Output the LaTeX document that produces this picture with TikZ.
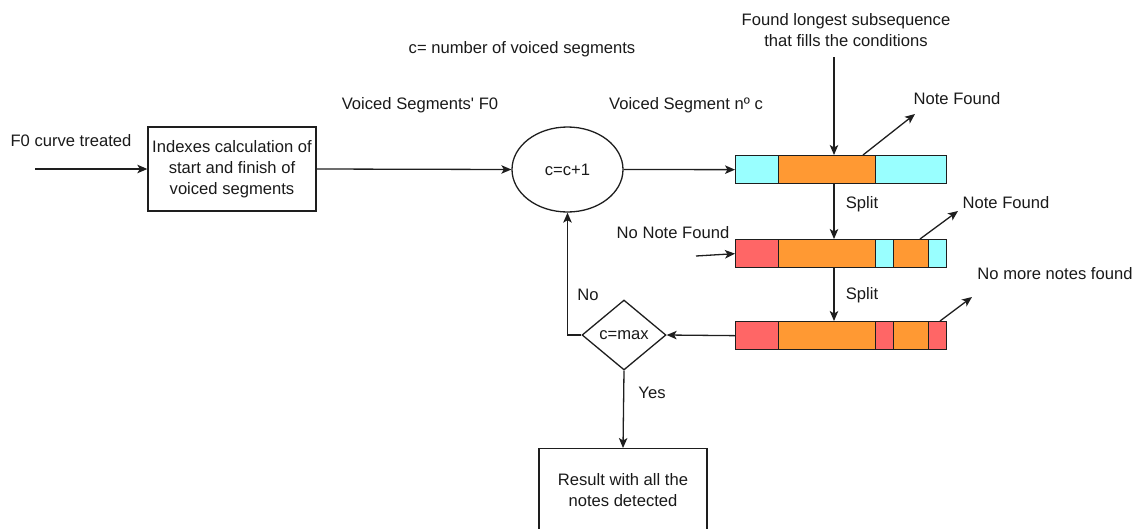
\documentclass[tikz,border=0pt]{standalone}
\usepackage{fontspec}
\setmainfont{Liberation Sans}
\usetikzlibrary{arrows.meta,shapes.geometric}
\definecolor{inkc}{HTML}{1A1A1A}
\definecolor{linec}{HTML}{1E1E1E}
\definecolor{cyanfill}{HTML}{99FFFF}
\definecolor{orangefill}{HTML}{FF9933}
\definecolor{redfill}{HTML}{FF6666}
\begin{document}
\begin{tikzpicture}[x=1pt,y=-1pt,
  txt/.style={font=\fontsize{16.6}{21}\selectfont, text=inkc, inner sep=0pt, align=center},
  boxline/.style={draw=linec, line width=1.3pt},
  arr/.style={draw=linec, line width=1.3pt, -{Stealth[length=10pt,width=8.5pt,inset=2.5pt]}},
  procbox/.style={boxline, txt, minimum width=168, minimum height=84},
  seg/.style={boxline, inner sep=0pt, minimum height=28, anchor=north west},
  cy/.style={seg, fill=cyanfill},
  og/.style={seg, fill=orangefill},
  rd/.style={seg, fill=redfill}]
\useasboundingbox (0,0) rectangle (1138,528);
\clip (0,0) rectangle (1138,528);

% main flow
\node[procbox] (idx) at (232,169) {Indexes calculation of\\start and finish of\\voiced segments};
\node[boxline, ellipse, minimum width=111, minimum height=85, inner sep=0pt] (inc) at (567.5,169.5) {};
\node[txt] (inctxt) at (inc.center) {c=c+1};
\node[boxline, diamond, minimum width=84, minimum height=70, inner sep=0pt] (chk) at (624,335) {};
\node[txt] (chktxt) at (chk.center) {c=max};
\node[boxline, minimum width=168, minimum height=100, anchor=north] (res) at (623,448) {};
\node[txt] (restxt) at (623,490) {Result with all the\\notes detected};

% segment bars
\node[cy, minimum width=43] (b1a) at (735,155) {};
\node[og, minimum width=97] (b1b) at (778,155) {};
\node[cy, minimum width=71] (b1c) at (875,155) {};

\node[rd, minimum width=43] (b2a) at (735,239) {};
\node[og, minimum width=97] (b2b) at (778,239) {};
\node[cy, minimum width=18] (b2c) at (875,239) {};
\node[og, minimum width=35] (b2d) at (893,239) {};
\node[cy, minimum width=18] (b2e) at (928,239) {};

\node[rd, minimum width=43] (b3a) at (735,321) {};
\node[og, minimum width=97] (b3b) at (778,321) {};
\node[rd, minimum width=18] (b3c) at (875,321) {};
\node[og, minimum width=35] (b3d) at (893,321) {};
\node[rd, minimum width=18] (b3e) at (928,321) {};

% labels
\node[txt] (lcount) at (522,49) {c= number of voiced segments};
\node[txt] (lvsf) at (420,105) {Voiced Segments\textquotesingle{} F0};
\node[txt] (lvsn) at (686,105) {Voiced Segment nº c};
\node[txt] (lin) at (71,141) {F0 curve treated};
\node[txt] (lfound) at (846,30) {Found longest subsequence\\that fills the conditions};
\node[txt] (lnf1) at (957,99) {Note Found};
\node[txt] (lsp1) at (862,204) {Split};
\node[txt] (lnf2) at (1006,203) {Note Found};
\node[txt] (lnonf) at (673,233) {No Note Found};
\node[txt] (lsp2) at (862,295) {Split};
\node[txt] (lnomore) at (1055,274) {No more notes found};
\node[txt] (lno) at (588,295) {No};
\node[txt] (lyes) at (652,393) {Yes};

% free ends of connectors
\coordinate (src) at (35,169);
\coordinate (ftop) at (834,57);
\coordinate (nf1) at (915,114);
\coordinate (nf2) at (958,211);
\coordinate (nomore) at (972,297);
\coordinate (nonf) at (696,256);

% connectors
\draw[arr] (src) -- (idx.west);
\draw[arr] (idx.east) -- (inc.west);
\draw[arr] (inc.east) -- (b1a.west);
\draw[arr] (ftop) -- (b1b.north -| ftop);
\draw[arr] (b1b.south -| ftop) -- (b2b.north -| ftop);
\draw[arr] (b2b.south -| ftop) -- (b3b.north -| ftop);
\draw[arr] ([xshift=85]b1b.north west) -- (nf1);
\draw[arr] ([xshift=27]b2d.north west) -- (nf2);
\draw[arr] ([xshift=12]b3e.north west) -- (nomore);
\draw[arr] (nonf) -- (b2a.west);
\draw[arr] (b3a.west) -- (chk.east);
\draw[arr] (chk.west) -| (inc.south);
\draw[arr] (chk.south) -- (res.north);
\end{tikzpicture}
\end{document}
